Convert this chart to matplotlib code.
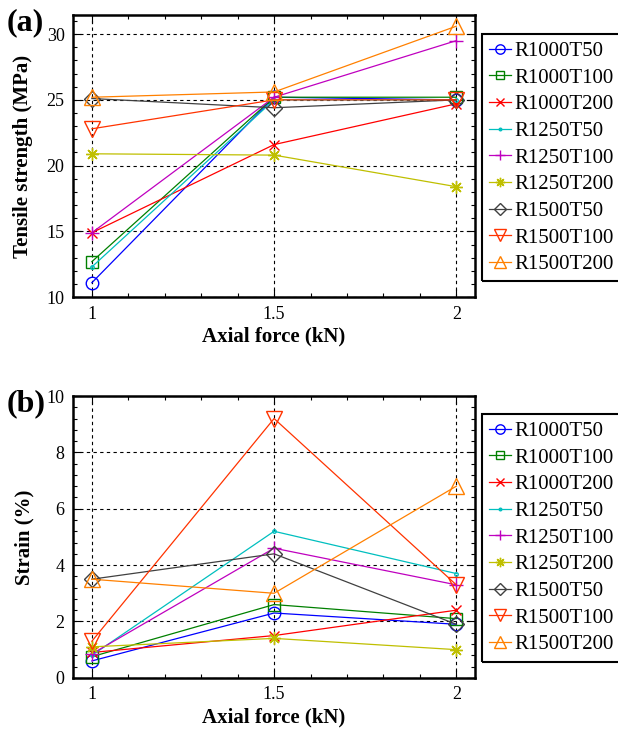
import matplotlib
matplotlib.use("Agg")
import matplotlib.pyplot as plt
from matplotlib.ticker import MultipleLocator
from matplotlib.patches import Rectangle

plt.rcParams['font.family'] = ['Liberation Serif', 'DejaVu Serif']
plt.rcParams['mathtext.fontset'] = 'stix'

axial_force = [1.0, 1.5, 2.0]
series_names = ["R1000T50", "R1000T100", "R1000T200", "R1250T50", "R1250T100",
                "R1250T200", "R1500T50", "R1500T100", "R1500T200"]

tensile_strength = {
    "R1000T50":  [11.1, 25.2, 25.0],
    "R1000T100": [12.7, 25.2, 25.2],
    "R1000T200": [14.9, 21.6, 24.7],
    "R1250T50":  [12.3, 25.0, 25.0],
    "R1250T100": [14.9, 25.2, 29.5],
    "R1250T200": [20.9, 20.8, 18.4],
    "R1500T50":  [25.1, 24.4, 25.0],
    "R1500T100": [22.8, 25.0, 25.0],
    "R1500T200": [25.2, 25.6, 30.6],
}

strain = {
    "R1000T50":  [0.6, 2.3, 1.9],
    "R1000T100": [0.75, 2.6, 2.1],
    "R1000T200": [0.9, 1.5, 2.4],
    "R1250T50":  [0.8, 5.2, 3.7],
    "R1250T100": [0.85, 4.6, 3.3],
    "R1250T200": [1.1, 1.4, 1.0],
    "R1500T50":  [3.5, 4.4, 1.9],
    "R1500T100": [1.3, 9.2, 3.3],
    "R1500T200": [3.5, 3.0, 6.8],
}

styles = {
    "R1000T50":  dict(color='#0000ff', marker='o', ms=9),
    "R1000T100": dict(color='#008000', marker='s', ms=8),
    "R1000T200": dict(color='#ff0000', marker='x', ms=7),
    "R1250T50":  dict(color='#00bfbf', marker='.', ms=5),
    "R1250T100": dict(color='#bf00bf', marker='+', ms=10),
    "R1250T200": dict(color='#bfbf00', marker=(8, 2, 0), ms=9),
    "R1500T50":  dict(color='#404040', marker='D', ms=8),
    "R1500T100": dict(color='#ff3300', marker='v', ms=11),
    "R1500T200": dict(color='#ff8000', marker='^', ms=11),
}

fig = plt.figure(figsize=(6.18, 7.32), dpi=100)
ax1 = fig.add_axes([0.118, 0.594, 0.651, 0.3855])
ax2 = fig.add_axes([0.118, 0.074, 0.651, 0.385])


def draw(ax, data, ylim, ymajor, ylabel, lab_x):
    for name in series_names:
        st = styles[name]
        ax.plot(axial_force, data[name], color=st['color'], marker=st['marker'],
                markersize=st['ms'], markerfacecolor='none', markeredgecolor=st['color'],
                markeredgewidth=1.0, linewidth=0.9, label=name, zorder=3)
    ax.set_xlim(0.948, 2.052)
    ax.set_ylim(*ylim)
    ax.xaxis.set_major_locator(MultipleLocator(0.5))
    ax.xaxis.set_minor_locator(MultipleLocator(0.1))
    ax.yaxis.set_major_locator(MultipleLocator(ymajor))
    ax.yaxis.set_minor_locator(MultipleLocator(ymajor / 5))
    ax.set_xticks([1, 1.5, 2])
    ax.set_xticklabels(['1', '1.5', '2'])
    ax.tick_params(which='both', direction='in', top=True, right=True, labelsize=13)
    ax.tick_params(which='major', length=6, width=0.8, pad=6)
    ax.tick_params(which='minor', length=3, width=0.8)
    ax.grid(True, which='major', color='black', linestyle=(0, (3, 3)), linewidth=0.8)
    for sp in ax.spines.values():
        sp.set_linewidth(1.8)
    ax.set_xlabel('Axial force (kN)', fontsize=15, fontweight='bold', labelpad=3)
    ax.set_ylabel(ylabel, fontsize=15, fontweight='bold')
    ax.yaxis.set_label_coords(lab_x, 0.5)


draw(ax1, tensile_strength, (10, 31.45), 5, 'Tensile strength (MPa)', -0.10)
draw(ax2, strain, (0, 10), 2, 'Strain (%)', -0.095)

legends = []
for ax, ytop in [(ax1, 0.9536), (ax2, 0.4344)]:
    leg = ax.legend(loc='upper left', bbox_to_anchor=(0.780, ytop),
                    bbox_transform=fig.transFigure, fontsize=15,
                    frameon=False,
                    handlelength=1.05, handletextpad=0.15, labelspacing=0.34,
                    borderpad=0.35, borderaxespad=0.0, markerscale=0.75)
    legends.append(leg)

fig.canvas.draw()
renderer = fig.canvas.get_renderer()
for leg in legends:
    bb = leg.get_window_extent(renderer).transformed(fig.transFigure.inverted())
    rect = Rectangle((bb.x0, bb.y0), 0.4, bb.height, transform=fig.transFigure,
                     facecolor='none', edgecolor='black', linewidth=1.5, clip_on=False)
    fig.add_artist(rect)

fig.text(0.01, 1 - 30 / 732, '(a)', fontsize=23, fontweight='bold', va='baseline')
fig.text(0.01, 1 - 411 / 732, '(b)', fontsize=23, fontweight='bold', va='baseline')

fig.savefig('out.png', dpi=100)
